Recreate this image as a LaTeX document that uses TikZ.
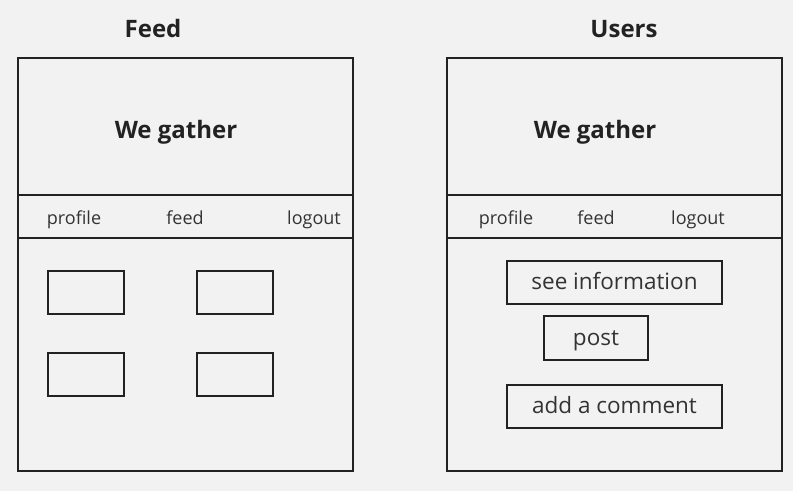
\documentclass[tikz,border=0pt]{standalone}
\usepackage{fontspec}
\setmainfont{Open Sans}
\definecolor{paper}{HTML}{F2F2F2}
\definecolor{ink}{HTML}{222222}
\definecolor{greytext}{HTML}{333333}

\begin{document}
\begin{tikzpicture}[x=1pt,y=-1pt,
  frame/.style={draw=ink,line width=2pt},
  tile/.style={draw=ink,line width=2.6pt},
  heading/.style={anchor=base,font=\fontsize{24}{27}\selectfont\bfseries,text=ink},
  navtext/.style={anchor=base,font=\fontsize{18}{20}\selectfont,text=greytext},
  button/.style={draw=ink,line width=2.6pt,inner sep=0pt,text height=17pt,text depth=3pt,
    font=\fontsize{22.5}{25}\selectfont,text=greytext}]

% background
\fill [paper] (0,0) rectangle (793,491);
\useasboundingbox (0,0) rectangle (793,491);

% page titles
\node [heading] (feedtitle)  at (153,37) {Feed};
\node [heading] (userstitle) at (624,37) {Users};


% left page (feed)
\draw [frame] (18,58) rectangle (353,471);
\draw [frame] (18,195) -- (353,195);
\draw [frame] (18,238) -- (353,238);
\node [heading] (feedlogo) at (176,138) {We gather};
\node [navtext] (feedprofile) at (74,224)  {profile};
\node [navtext] (feedfeed)    at (185,224) {feed};
\node [navtext] (feedlogout)  at (314,224) {logout};

% post tiles
\draw [tile] (48,271)  rectangle (124,314);
\draw [tile] (197,271) rectangle (273,314);
\draw [tile] (48,353)  rectangle (124,396);
\draw [tile] (197,353) rectangle (273,396);


% right page (users)
\draw [frame] (447,58) rectangle (782,471);
\draw [frame] (447,195) -- (782,195);
\draw [frame] (447,238) -- (782,238);
\node [heading] (userslogo) at (595,138) {We gather};
\node [navtext] (usersprofile) at (506,224) {profile};
\node [navtext] (usersfeed)    at (596,224) {feed};
\node [navtext] (userslogout)  at (698,224) {logout};

% buttons
\node [button,minimum width=215pt,minimum height=43pt] (seeinfo)    at (614.5,282.5) {see information};
\node [button,minimum width=104pt,minimum height=44pt] (post)       at (596,338)     {post};
\node [button,minimum width=215pt,minimum height=43pt] (addcomment) at (614.5,406.5) {add a comment};
\end{tikzpicture}
\end{document}
